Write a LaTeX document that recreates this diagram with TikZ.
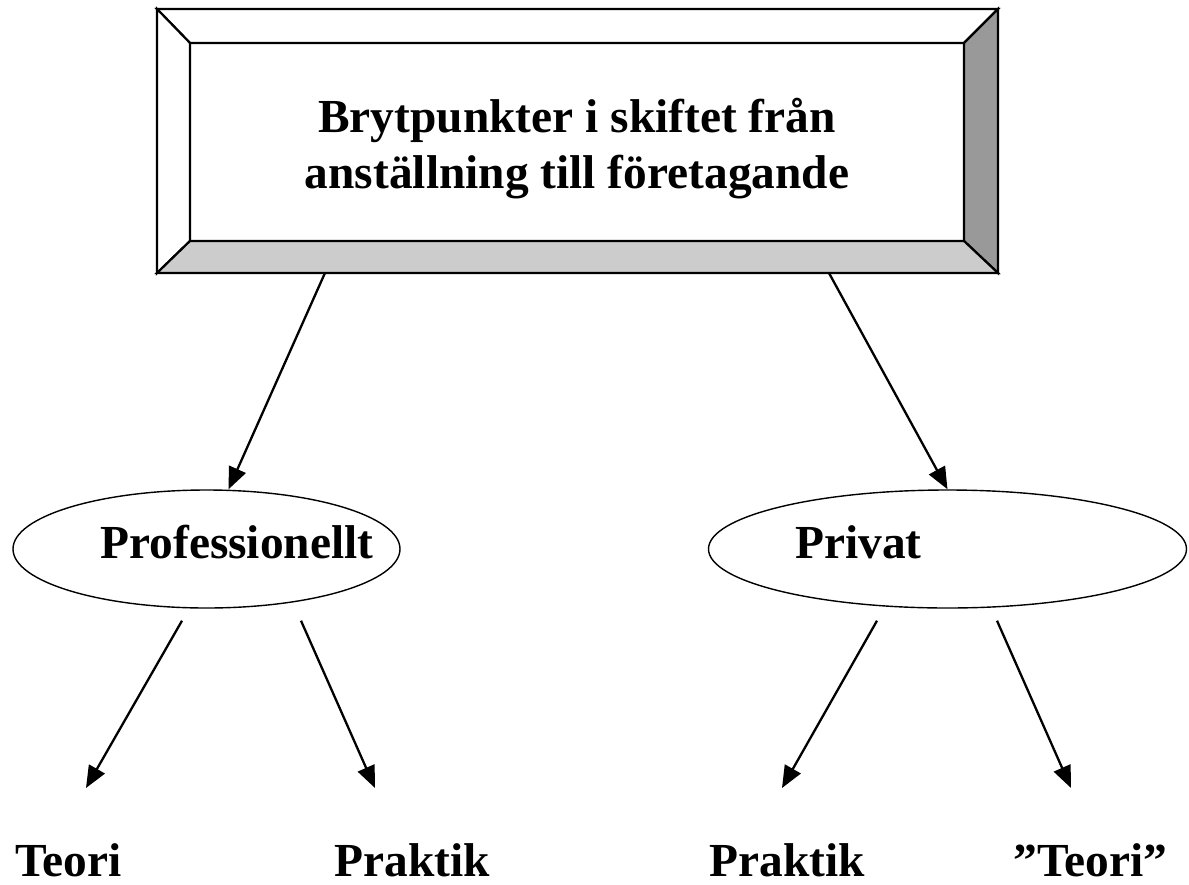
\documentclass[tikz,border=0pt]{standalone}
\usepackage{fontspec}
\setmainfont{Liberation Serif}
\usetikzlibrary{shapes.geometric,arrows.meta,calc}
\begin{document}
\begin{tikzpicture}[x=0.5pt,y=-0.5pt,
  lbl/.style={font=\fontsize{23.7}{28}\selectfont\bfseries, inner sep=0pt, anchor=base west},
  oval/.style={draw, ellipse, line width=0.7pt, inner sep=0pt},
  conn/.style={line width=1.15pt, -{Triangle[length=11pt,width=9pt]}},
  bevel/.style={draw, line width=1.1pt, line join=miter}]
\useasboundingbox (0,0) rectangle (1189,884);
% bevelled title box
\node[minimum width=420.5pt, minimum height=132pt, inner sep=0pt] (box) at (577.5,141) {};
\filldraw[bevel, fill=white] (157,9) -- (998,9) -- (964,43) -- (190,43) -- cycle;
\filldraw[bevel, fill=white] (157,9) -- (190,43) -- (190,241) -- (157,273) -- cycle;
\filldraw[bevel, fill=black!40] (998,9) -- (998,273) -- (964,241) -- (964,43) -- cycle;
\filldraw[bevel, fill=black!20] (157,273) -- (998,273) -- (964,241) -- (190,241) -- cycle;
\draw[line width=1.1pt] (190,43) rectangle (964,241);
\node[font=\fontsize{23.7}{28}\selectfont\bfseries, align=center, inner sep=0pt] (title) at (577,148.5)
  {Brytpunkter i skiftet från\\anställning till företagande};
% ellipses
\node[oval, minimum width=193.5pt, minimum height=59pt] (pro) at (206.5,549) {};
\node[oval, minimum width=239pt, minimum height=59pt] (priv) at (947.5,549) {};
\node[lbl] (protxt) at (100,558) {Professionellt};
\node[lbl] (privtxt) at (795,558) {Privat};
% bottom labels
\node[lbl] (teori1) at (15,876) {Teori};
\node[lbl] (prak1) at (334,876) {Praktik};
\node[lbl] (prak2) at (709,876) {Praktik};
\node[lbl] (teori2) at (1013,876) {”Teori”};
% free arrow ends
\coordinate (e1) at (86,788);
\coordinate (e2) at (375,788);
\coordinate (e3) at (782,788);
\coordinate (e4) at (1071,788);
% connectors
\draw[conn] ($(box.south west)!0.1998!(box.south east)$) -- ($(pro.north)+(22,0)$);
\draw[conn] ($(box.south west)!0.799!(box.south east)$) -- (priv.north);
\draw[conn] ($(pro.south)+(-24.5,12)$) -- (e1);
\draw[conn] ($(pro.south)+(94.5,12)$) -- (e2);
\draw[conn] ($(priv.south)+(-70.5,12)$) -- (e3);
\draw[conn] ($(priv.south)+(49.5,12)$) -- (e4);
\end{tikzpicture}
\end{document}
